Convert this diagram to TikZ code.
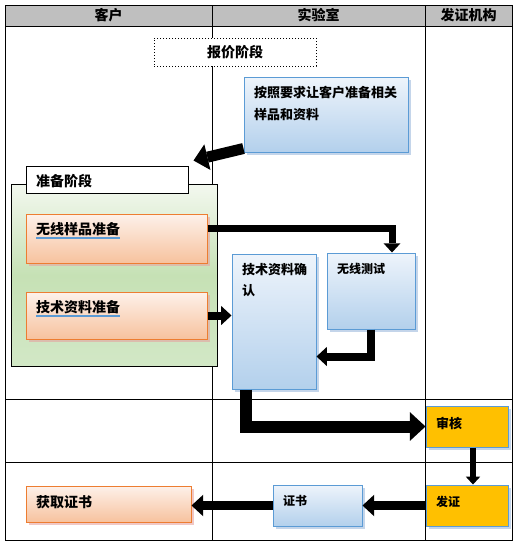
\documentclass[tikz,border=0pt]{standalone}
\usepackage{fontspec}
\newfontfamily\cjk{Noto Sans CJK SC}
\usepackage{tikz}
\usetikzlibrary{arrows.meta, shadows}

\definecolor{headgray}{HTML}{BFBFBF}
\definecolor{edgeblue}{HTML}{5B9BD5}
\definecolor{blueTop}{HTML}{EEF4FB}
\definecolor{blueBot}{HTML}{B3D0EC}
\definecolor{edgeorange}{HTML}{ED7D31}
\definecolor{orangeTop}{HTML}{FDF1EA}
\definecolor{orangeBot}{HTML}{F7C29E}
\definecolor{greenTop}{HTML}{F3F8EF}
\definecolor{greenMid}{HTML}{C6E1B5}
\definecolor{greenBot}{HTML}{D2E8C6}
\definecolor{gold}{HTML}{FFC000}
\definecolor{shadeblue}{HTML}{9DB9DC}
\definecolor{shadered}{HTML}{E6A3A0}

\tikzset{
	lane/.style = {line width = 1pt},
	head/.style = {font = \cjk\bfseries\fontsize{14}{16}\selectfont, inner sep = 0pt},
	txt/.style = {font = \cjk\bfseries\fontsize{13}{21}\selectfont, inner sep = 0pt, anchor = west, align = left},
	big/.style = {font = \cjk\bfseries\fontsize{14}{16}\selectfont},
	small/.style = {font = \cjk\bfseries\fontsize{12}{16}\selectfont},
	box/.style = {inner sep = 0pt, line width = 1pt},
	bluebox/.style = {box, draw = edgeblue, top color = blueTop, bottom color = blueBot,
		drop shadow = {shadow xshift = 3pt, shadow yshift = -3pt, fill = shadeblue, opacity = 0.6}},
	orangebox/.style = {box, draw = edgeorange, top color = orangeTop, bottom color = orangeBot,
		drop shadow = {shadow xshift = 3pt, shadow yshift = -3pt, fill = shadered, opacity = 0.6}},
	goldbox/.style = {box, draw = edgeblue, fill = gold,
		drop shadow = {shadow xshift = 3pt, shadow yshift = -3pt, fill = shadeblue, opacity = 0.6}},
	flow/.style = {line width = #1, -{Triangle[length = 0pt 1.3, width = 0pt 2.4, line width = 0pt 0]}},
	spell/.style = {draw = edgeblue, line width = 1.2pt}
}

\begin{document}
\begin{tikzpicture}[x = 1pt, y = -1pt]
	\useasboundingbox (0,0) rectangle (517,544);

	\begin{scope}[lane]
		\fill [headgray] (5,5) rectangle (512,26);
		\draw (5,5) rectangle (512,540);
		\draw (5,26) -- (512,26);
		\draw (212,5) -- (212,540);
		\draw (425,5) -- (425,540);
		\draw (5,399) -- (512,399);
		\draw (5,462) -- (512,462);
	\end{scope}

	\node [head] (hClient) at (108.5,15.5) {客户};
	\node [head] (hLab) at (318.5,15.5) {实验室};
	\node [head] (hAuth) at (468.5,15.5) {发证机构};

	\node [box, draw, dotted, fill = white, minimum width = 162pt, minimum height = 28pt,
		font = \cjk\bfseries\fontsize{14}{16}\selectfont] (quote) at (235,52) {报价阶段};

	\node [bluebox, minimum width = 164pt, minimum height = 75pt] (req) at (326,114.5) {};
	\node [txt, anchor = north west] (reqT) at (254,86.5) {按照要求让客户准备相关\\样品和资料};

	\node [box, draw = black, top color = greenTop, bottom color = greenBot, middle color = greenMid,
		minimum width = 206pt, minimum height = 182pt] (prep) at (114,275) {};
	\node [box, draw = black, fill = white, minimum width = 162pt, minimum height = 27pt] (prepL) at (107,179.5) {};
	\node [txt, big] (prepT) at (36,181) {准备阶段};

	\node [orangebox, minimum width = 181pt, minimum height = 49pt] (sample) at (116.5,238.5) {};
	\node [txt, big] (sampleT) at (36,229) {无线样品准备};
	\draw [spell] ([yshift = -2pt]sampleT.south west) -- ([yshift = -2pt]sampleT.south east);

	\node [orangebox, minimum width = 181pt, minimum height = 47pt] (docs) at (116.5,315.5) {};
	\node [txt, big] (docsT) at (36,307) {技术资料准备};
	\draw [spell] ([yshift = -2pt]docsT.south west) -- ([yshift = -2pt]docsT.south east);

	\node [bluebox, minimum width = 84pt, minimum height = 135pt] (check) at (274,321.5) {};
	\node [txt, anchor = north west] (checkT) at (242,263.5) {技术资料确\\认};

	\node [bluebox, minimum width = 88pt, minimum height = 76pt] (test) at (371,291) {};
	\node [txt, small] (testT) at (337,269) {无线测试};

	\node [goldbox, minimum width = 82pt, minimum height = 41pt] (audit) at (467,426.5) {};
	\node [txt] (auditT) at (436,423) {审核};

	\node [goldbox, minimum width = 82pt, minimum height = 41pt] (issue) at (467,505.5) {};
	\node [txt, small] (issueT) at (436,502) {发证};

	\node [bluebox, minimum width = 89pt, minimum height = 41pt] (cert) at (317.5,505.5) {};
	\node [txt, small] (certT) at (283,501) {证书};

	\node [orangebox, minimum width = 165pt, minimum height = 36pt] (get) at (108.5,504) {};
	\node [txt, big] (getT) at (36,502) {获取证书};

	\begin{scope}
		\draw [flow = 11pt] ([yshift = 4pt]req.south west) -- ([xshift = 5pt, yshift = 5pt]prepL.north east);
		\draw [flow = 7pt] ([yshift = 10pt]sample.east) -| ([xshift = 21pt]test.north);
		\draw [flow = 8pt] (docs.east) -- (docs.east -| check.west);
		\draw [flow = 8pt] (test.south) |- ([yshift = -35pt]check.east);
		\draw [flow = 12pt] ([xshift = -28pt]check.south) |- (audit.west);
		\draw [flow = 6pt] ([xshift = 6pt]audit.south) -- ([xshift = 6pt]issue.north);
		\draw [flow = 9pt] (issue.west) -- (cert.east);
		\draw [flow = 9pt] (cert.west) -- (cert.west -| get.east);
	\end{scope}
\end{tikzpicture}
\end{document}
